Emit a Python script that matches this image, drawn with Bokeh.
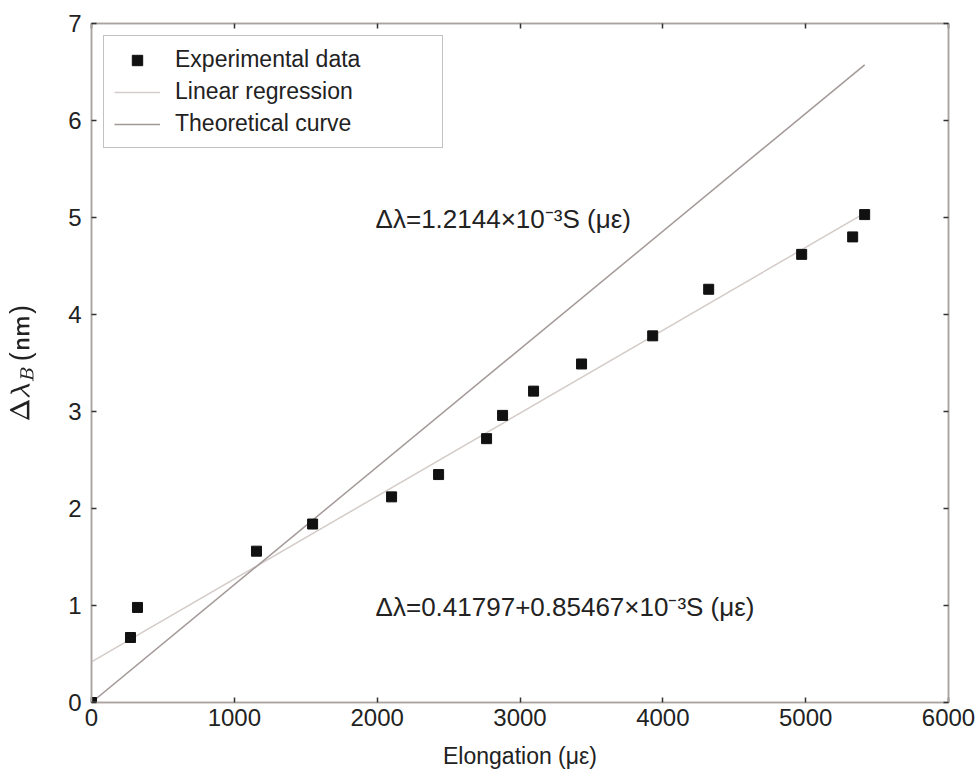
from bokeh.plotting import figure
from bokeh.models import Range1d, LinearAxis, Label, Legend, LegendItem, FixedTicker, TeX
from bokeh.embed import file_html
from bokeh.resources import INLINE

# ---- data ----
strain = [0, 273, 322, 1155, 1548, 2101, 2430, 2766, 2878, 3095, 3431, 3929, 4321, 4972, 5329, 5413]
shift = [0, 0.67, 0.98, 1.56, 1.84, 2.12, 2.35, 2.72, 2.96, 3.21, 3.49, 3.78, 4.26, 4.62, 4.80, 5.03]

fit_x = [0, 5413]
fit_y = [0.418, 5.045]
theory_x = [0, 5413]
theory_y = [0.0, 6.574]

x_ticks = [0, 1000, 2000, 3000, 4000, 5000, 6000]
y_ticks = [0, 1, 2, 3, 4, 5, 6, 7]

legend_labels = ["Experimental data", "Linear regression", "Theoretical curve"]
eq_theory = "Δλ=1.2144×10⁻³S (με)"
eq_fit = "Δλ=0.41797+0.85467×10⁻³S (με)"
x_title = "Elongation (με)"
y_title = r"\Delta\lambda_{B}\,\mathsf{(nm)}"

FONT = "Liberation Sans"
AXIS_COL = "#aaa2a0"
TICK_COL = "#333333"

p = figure(width=979, height=776, output_backend="svg", toolbar_location=None,
           x_range=Range1d(0, 6000), y_range=Range1d(0, 7),
           min_border_left=91, min_border_right=31, min_border_top=23, min_border_bottom=74,
           x_axis_location=None, y_axis_location=None)
p.grid.visible = False
p.outline_line_color = AXIS_COL
p.outline_line_width = 1.5
p.background_fill_color = "white"
p.border_fill_color = "white"


def style_axis(ax, ticks, show_labels, size):
    ax.ticker = FixedTicker(ticks=ticks)
    ax.axis_line_color = AXIS_COL
    ax.axis_line_width = 1.5
    ax.major_tick_in = 5
    ax.major_tick_out = 0
    ax.major_tick_line_color = TICK_COL
    ax.major_tick_line_width = 1.5
    ax.minor_tick_line_color = None
    ax.major_label_text_font = FONT
    ax.major_label_text_color = "#222222"
    ax.major_label_text_font_size = size
    if not show_labels:
        ax.major_label_overrides = {t: "" for t in ticks}
        ax.major_label_standoff = 0


xb = LinearAxis()
style_axis(xb, x_ticks, True, "24px")
xb.major_label_standoff = 6
xb.axis_label = x_title
xb.axis_label_text_font = FONT
xb.axis_label_text_font_size = "23px"
xb.axis_label_text_font_style = "normal"
xb.axis_label_text_color = "#222222"
xb.axis_label_standoff = 14
p.add_layout(xb, "below")

yl = LinearAxis()
style_axis(yl, y_ticks, True, "24px")
yl.major_label_standoff = 10
yl.axis_label = TeX(text=y_title)
yl.axis_label_text_font_size = "22px"
yl.axis_label_text_color = "#222222"
yl.axis_label_standoff = 29
p.add_layout(yl, "left")

xt = LinearAxis()
style_axis(xt, x_ticks, False, "10px")
p.add_layout(xt, "above")

yr = LinearAxis()
style_axis(yr, y_ticks, False, "10px")
p.add_layout(yr, "right")

# lines
r_fit = p.line(fit_x, fit_y, line_color="#d3ccc9", line_width=1.5)
r_th = p.line(theory_x, theory_y, line_color="#a39a98", line_width=1.5)
# points
r_pts = p.scatter(strain, shift, marker="square", size=10, fill_color="#111111",
                  line_color="#111111")

legend = Legend(items=[
    LegendItem(label=legend_labels[0], renderers=[r_pts]),
    LegendItem(label=legend_labels[1], renderers=[r_fit]),
    LegendItem(label=legend_labels[2], renderers=[r_th]),
], location="top_left")
legend.margin = 12
legend.padding = 10
legend.spacing = 5
legend.glyph_width = 46
legend.glyph_height = 26
legend.label_standoff = 15
legend.label_width = 257
legend.label_text_font = FONT
legend.label_text_font_size = "23px"
legend.label_text_color = "#222222"
legend.border_line_color = "#8a8583"
legend.border_line_width = 1
legend.background_fill_color = "white"
legend.background_fill_alpha = 1
p.add_layout(legend, "center")

# equations
p.add_layout(Label(x=1989, y=4.98, text=eq_theory, text_font=FONT, text_font_size="26px",
                   text_color="#222222", text_baseline="middle", text_align="left"))
p.add_layout(Label(x=1989, y=0.98, text=eq_fit, text_font=FONT, text_font_size="26px",
                   text_color="#222222", text_baseline="middle", text_align="left"))

open("out.html", "w").write(file_html(p, INLINE))
